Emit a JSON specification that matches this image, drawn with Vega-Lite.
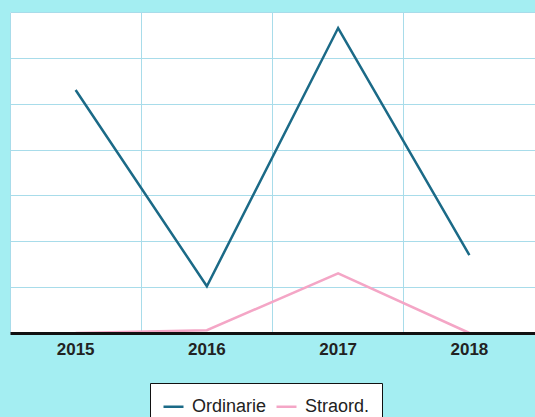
{
  "$schema": "https://vega.github.io/schema/vega-lite/v6.json",
  "width": 525,
  "height": 321,
  "autosize": {"type": "none"},
  "padding": {"left": 10, "top": 12, "right": 0, "bottom": 84},
  "background": "#a4eef2",
  "config": {"view": {"fill": "white", "stroke": null}},
  "data": {
    "values": [
      {"anno": "2015", "serie": "Ordinarie", "valore": 5.3},
      {"anno": "2016", "serie": "Ordinarie", "valore": 1.02},
      {"anno": "2017", "serie": "Ordinarie", "valore": 6.65},
      {"anno": "2018", "serie": "Ordinarie", "valore": 1.7},
      {"anno": "2015", "serie": "Straord.", "valore": 0},
      {"anno": "2016", "serie": "Straord.", "valore": 0.06},
      {"anno": "2017", "serie": "Straord.", "valore": 1.3},
      {"anno": "2018", "serie": "Straord.", "valore": 0}
    ]
  },
  "layer": [
    {
      "mark": {"type": "line", "strokeWidth": 2.5},
      "encoding": {
        "x": {
          "field": "anno",
          "type": "nominal",
          "scale": {"type": "band", "paddingInner": 0, "paddingOuter": 0},
          "axis": {
            "orient": "bottom",
            "title": null,
            "labels": false,
            "domain": false,
            "ticks": false,
            "grid": true,
            "gridColor": "#a8dcea",
            "gridWidth": 1,
            "bandPosition": 0
          }
        },
        "y": {
          "field": "valore",
          "type": "quantitative",
          "scale": {"domain": [0, 7], "nice": false},
          "axis": {
            "title": null,
            "labels": false,
            "ticks": false,
            "domain": false,
            "grid": true,
            "gridColor": "#a8dcea",
            "gridWidth": 1,
            "values": [0, 1, 2, 3, 4, 5, 6, 7]
          }
        },
        "color": {
          "field": "serie",
          "type": "nominal",
          "scale": {"domain": ["Ordinarie", "Straord."], "range": ["#1b6a87", "#f4a6c6"]},
          "legend": {
            "title": null,
            "orient": "none",
            "legendX": 140,
            "legendY": 371,
            "direction": "horizontal",
            "symbolType": "stroke",
            "symbolSize": 400,
            "symbolStrokeWidth": 2.5,
            "labelFontSize": 18,
            "labelFont": "Liberation Sans",
            "labelColor": "#222222",
            "fillColor": "white",
            "strokeColor": "#111111",
            "padding": 12,
            "columnPadding": 4,
            "labelOffset": 7,
            "cornerRadius": 0
          }
        }
      }
    },
    {
      "mark": {"type": "line", "opacity": 0},
      "encoding": {
        "x": {
          "field": "anno",
          "type": "nominal",
          "axis": {
            "orient": "bottom",
            "title": null,
            "labelAngle": 0,
            "labelFont": "Liberation Sans",
            "labelFontWeight": "bold",
            "labelFontSize": 17,
            "labelColor": "#222222",
            "labelPadding": 8,
            "domainColor": "#111111",
            "domainWidth": 3,
            "ticks": false,
            "grid": false,
            "zindex": 1
          }
        },
        "y": {"field": "valore", "type": "quantitative"},
        "detail": {"field": "serie"}
      }
    }
  ],
  "resolve": {"axis": {"x": "independent"}}
}
